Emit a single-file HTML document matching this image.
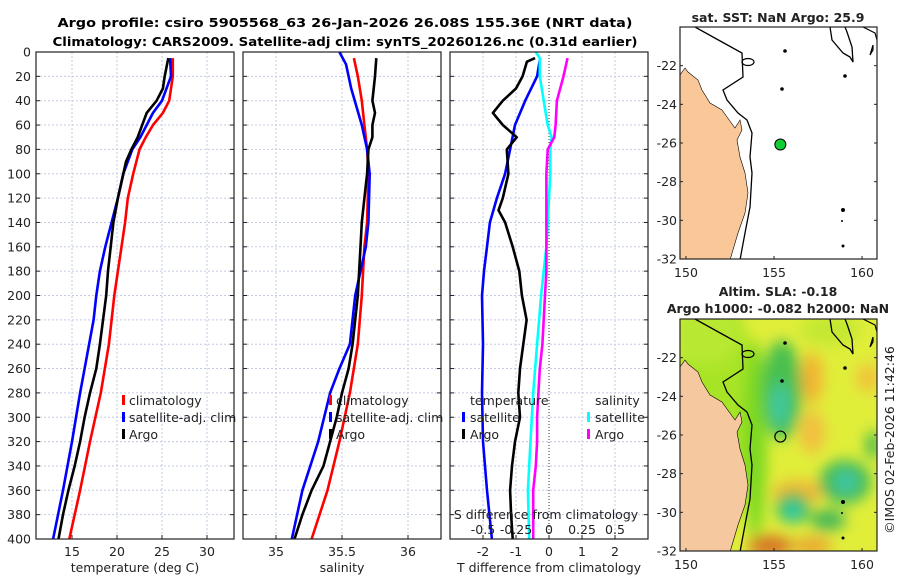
<!DOCTYPE html>
<html><head><meta charset="utf-8"><style>
body{margin:0;background:#fff}
svg{display:block;font-family:"DejaVu Sans","Liberation Sans",sans-serif}
</style></head><body>
<svg id="root" width="900" height="580" xmlns="http://www.w3.org/2000/svg">
<defs>
<filter id="blur" x="-50%" y="-50%" width="200%" height="200%"><feGaussianBlur stdDeviation="7"/></filter>
<clipPath id="clipMap1"><rect x="680" y="27" width="197" height="232"/></clipPath>
<clipPath id="clipMap2"><rect x="680" y="319" width="197" height="232"/></clipPath>
<clipPath id="clipP1"><rect x="36" y="52" width="198" height="487"/></clipPath>
<clipPath id="clipP2"><rect x="243" y="52" width="198" height="487"/></clipPath>
<clipPath id="clipP3"><rect x="450" y="52" width="198" height="487"/></clipPath>
</defs>
<text x="345" y="27" text-anchor="middle" font-size="12.5" font-weight="bold" textLength="575" lengthAdjust="spacingAndGlyphs">Argo profile: csiro 5905568_63 26-Jan-2026 26.08S 155.36E (NRT data)</text>
<text x="345" y="46" text-anchor="middle" font-size="12.5" font-weight="bold" textLength="585" lengthAdjust="spacingAndGlyphs">Climatology: CARS2009. Satellite-adj clim: synTS_20260126.nc (0.31d earlier)</text>
<g id="panels"></g>
<g id="maps"></g>
<text transform="translate(894,440) rotate(-90)" text-anchor="middle" font-size="12.5" fill="#222">©IMOS 02-Feb-2026 11:42:46</text>
</svg>
<script>
// ---------- data ----------
const depthT_clim = [5,20,40,50,60,70,80,100,120,140,160,200,220,240,280,320,360,400];
const temp_clim   = [26.2,26.2,25.8,25.1,24.0,23.2,22.5,21.8,21.2,20.9,20.5,19.7,19.4,19.1,18.2,17.0,15.9,14.7];
const depthT_argo = [5,20,30,40,50,60,70,80,90,100,120,140,160,180,200,240,260,280,300,320,340,360,380,400];
const temp_argo   = [25.7,25.3,25.1,24.4,23.3,22.8,22.3,21.6,21.0,20.7,20.1,19.6,19.3,19.0,18.8,18.1,17.7,17.0,16.4,15.9,15.3,14.6,14.0,13.5];
const depthT_sat  = [5,20,40,50,60,70,80,100,120,140,160,180,200,220,260,280,320,360,400];
const temp_sat    = [25.9,26.0,25.0,24.0,23.3,22.6,21.7,20.7,20.1,19.4,18.7,18.1,17.7,17.4,16.4,15.9,15.0,14.0,12.9];

const depthS_clim = [5,20,40,60,80,100,140,160,200,240,280,320,360,400];
const sal_clim    = [35.59,35.62,35.65,35.67,35.69,35.70,35.69,35.67,35.65,35.62,35.56,35.48,35.39,35.27];
const depthS_argo = [5,20,40,50,60,70,80,100,120,140,160,200,240,260,280,300,320,340,360,380,400];
const sal_argo    = [35.76,35.75,35.73,35.75,35.73,35.73,35.70,35.69,35.67,35.65,35.64,35.62,35.58,35.55,35.50,35.46,35.41,35.36,35.27,35.20,35.14];
const depthS_sat  = [0,10,30,60,80,100,140,160,200,240,260,280,320,360,400];
const sal_sat     = [35.48,35.53,35.57,35.65,35.69,35.71,35.70,35.68,35.60,35.56,35.48,35.41,35.32,35.20,35.12];

const depthD_Targo = [5,8,20,30,40,50,60,70,80,100,120,130,140,160,180,200,220,240,260,280,300,320,340,360,380,400];
const dT_argo      = [-0.42,-0.67,-0.8,-1.0,-1.4,-1.7,-1.4,-0.98,-1.28,-1.23,-1.4,-1.53,-1.33,-1.1,-0.9,-0.82,-0.68,-0.78,-0.88,-0.93,-0.88,-1.03,-1.12,-1.18,-1.15,-1.1];
const depthD_Tsat  = [5,20,40,60,80,100,120,140,160,180,200,240,280,320,360,400];
const dT_sat       = [-0.27,-0.36,-0.72,-1.03,-1.18,-1.33,-1.58,-1.79,-1.88,-1.97,-2.03,-2.0,-2.03,-2.0,-1.88,-1.73];
const depthD_Ssat  = [0,5,20,40,60,70,80,100,140,160,180,200,240,280,320,360,400];
const dS_sat       = [-0.1,-0.07,-0.07,-0.04,-0.01,0.02,0.01,0.01,-0.01,-0.02,-0.04,-0.06,-0.09,-0.12,-0.14,-0.16,-0.15];
const depthD_Sargo = [5,20,40,60,70,80,100,140,160,180,200,220,240,260,280,300,320,340,360,400];
const dS_argo      = [0.14,0.11,0.06,0.05,0.04,-0.01,-0.02,-0.02,-0.02,-0.02,-0.03,-0.04,-0.05,-0.07,-0.08,-0.09,-0.09,-0.1,-0.12,-0.12];

const depthTicks = [0,20,40,60,80,100,120,140,160,180,200,220,240,260,280,300,320,340,360,380,400];
const tempTicks = [15,20,25,30];
const salTicks = [35,35.5,36];
const salTickLabels = ["35","35.5","36"];
const dTTicks = [-2,-1,0,1,2];
const dSTicks = [-0.5,-0.25,0,0.25,0.5];
const dSTickLabels = ["-0.5","-0.25","0","0.25","0.5"];
const latTicks = [-22,-24,-26,-28,-30,-32];
const lonTicks = [150,155,160];
const argoLon = 155.36, argoLat = -26.08;

// ---------- helpers ----------
const NS="http://www.w3.org/2000/svg";
function mk(tag, attrs, parent){const e=document.createElementNS(NS,tag);for(const k in attrs)e.setAttribute(k,attrs[k]);parent.appendChild(e);return e;}
const Y0=52, Y1=539;
const yD = d => Y0 + (Y1-Y0)*d/400;
const panelsG=document.getElementById('panels');

function panel(x0, xmin, xmax, name){
  const g=mk('g',{},panelsG);
  
  
  const sx = v => x0 + 198*(v-xmin)/(xmax-xmin);
  return {g, sx, x0};
}
function grid(p, xticks){
  depthTicks.forEach(d=>{ if(d>0&&d<400){const l=mk('line',{x1:p.x0,x2:p.x0+198,y1:yD(d),y2:yD(d),stroke:'#c3cbe6','stroke-width':1,'stroke-dasharray':'2,2'},p.g);
     }});
  xticks.forEach(v=>{const l=mk('line',{x1:p.sx(v),x2:p.sx(v),y1:Y0,y2:Y1,stroke:'#c3cbe6','stroke-width':1,'stroke-dasharray':'2,2'},p.g);
     });
}
function frame(p, xticks){
  depthTicks.forEach(d=>{mk('line',{x1:p.x0,x2:p.x0+4,y1:yD(d),y2:yD(d),stroke:'#222'},p.g);mk('line',{x1:p.x0+194,x2:p.x0+198,y1:yD(d),y2:yD(d),stroke:'#222'},p.g);});
  xticks.forEach(v=>mk('line',{x1:p.sx(v),x2:p.sx(v),y1:Y1,y2:Y1-4,stroke:'#222'},p.g));
  const r=mk('rect',{x:p.x0,y:Y0,width:198,height:Y1-Y0,fill:'none',stroke:'#222','stroke-width':1.2},p.g);
   
}
function line(p, xs, ds, color, name, clip, sx){
  const f = sx||p.sx;
  const pts = xs.map((v,i)=>f(v).toFixed(1)+','+yD(ds[i]).toFixed(1)).join(' ');
  const l=mk('polyline',{points:pts,fill:'none',stroke:color,'stroke-width':2.6,'stroke-linejoin':'round','clip-path':'url(#'+clip+')'},p.g);
  
  
}
function txt(parent,x,y,s,opts){const t=mk('text',Object.assign({x,y,'font-size':12.5,fill:'#222'},opts||{}),parent);t.textContent=s;return t;}
function legendMark(parent,x,y,color){mk('rect',{x:x,y:y-9,width:3,height:10,fill:color},parent);}

// y labels
depthTicks.forEach(d=>{const t=txt(panelsG,31,yD(d)+4.5,String(d),{'text-anchor':'end'});
   });

// ----- panel 1: temperature -----
const p1=panel(36,11,33,'temperature-panel');
grid(p1,tempTicks);
line(p1,temp_clim,depthT_clim,'#ff0000','temp-climatology-line','clipP1');
line(p1,temp_sat,depthT_sat,'#0000ff','temp-satellite-line','clipP1');
line(p1,temp_argo,depthT_argo,'#000000','temp-argo-line','clipP1');
frame(p1,tempTicks);
tempTicks.forEach(v=>{const t=txt(p1.g,p1.sx(v),556,String(v),{'text-anchor':'middle'});});
{const t=txt(p1.g,135,572,'temperature (deg C)',{'text-anchor':'middle'});}
{const lg=mk('g',{},p1.g);
 legendMark(lg,122,404,'#ff0000');txt(lg,129,405,'climatology');
 legendMark(lg,122,421,'#0000ff');txt(lg,129,422,'satellite-adj. clim');
 legendMark(lg,122,438,'#000');txt(lg,129,439,'Argo');}

// ----- panel 2: salinity -----
const p2=panel(243,34.75,36.25,'salinity-panel');
grid(p2,salTicks);
line(p2,sal_clim,depthS_clim,'#ff0000','sal-climatology-line','clipP2');
line(p2,sal_sat,depthS_sat,'#0000ff','sal-satellite-line','clipP2');
line(p2,sal_argo,depthS_argo,'#000000','sal-argo-line','clipP2');
frame(p2,salTicks);
salTicks.forEach((v,i)=>{const t=txt(p2.g,p2.sx(v),556,salTickLabels[i],{'text-anchor':'middle'});});
{const t=txt(p2.g,342,572,'salinity',{'text-anchor':'middle'});}
{const lg=mk('g',{},p2.g);
 legendMark(lg,329,404,'#ff0000');txt(lg,336,405,'climatology');
 legendMark(lg,329,421,'#0000ff');txt(lg,336,422,'satellite-adj. clim');
 legendMark(lg,329,438,'#000');txt(lg,336,439,'Argo');}

// ----- panel 3: differences -----
const p3=panel(450,-3,3,'difference-panel');
const sxS = v => 450 + 198*(v+0.75)/1.5;
grid(p3,dTTicks.filter(v=>v!==0));
{const z=mk('line',{x1:p3.sx(0),x2:p3.sx(0),y1:Y0,y2:Y1,stroke:'#333','stroke-width':1,'stroke-dasharray':'1,2'},p3.g);}
line(p3,dT_sat,depthD_Tsat,'#0000ff','dT-satellite-line','clipP3');
line(p3,dT_argo,depthD_Targo,'#000000','dT-argo-line','clipP3');
line(p3,dS_sat,depthD_Ssat,'#00ffff','dS-satellite-line','clipP3',sxS);
line(p3,dS_argo,depthD_Sargo,'#ff00ff','dS-argo-line','clipP3',sxS);
frame(p3,dTTicks);
dTTicks.forEach(v=>{const t=txt(p3.g,p3.sx(v),556,String(v),{'text-anchor':'middle'});});
{const t=txt(p3.g,549,572,'T difference from climatology',{'text-anchor':'middle'});}
{const t=txt(p3.g,546,519,'S difference from climatology',{'text-anchor':'middle'});}
dSTicks.forEach((v,i)=>{const t=txt(p3.g,sxS(v),534,dSTickLabels[i],{'text-anchor':'middle'});});
{const lg=mk('g',{},p3.g);
 txt(lg,470,405,'temperature');
 legendMark(lg,462,421,'#0000ff');txt(lg,470,422,'satellite');
 legendMark(lg,462,438,'#000');txt(lg,470,439,'Argo');
 txt(lg,595,405,'salinity');
 legendMark(lg,587,421,'#00ffff');txt(lg,595,422,'satellite');
 legendMark(lg,587,438,'#ff00ff');txt(lg,595,439,'Argo');}

// ----- maps -----
const mapsG=document.getElementById('maps');
const lonX = lon => 680 + 197*(lon-149.66)/(160.85-149.66);
function latY(lat, top){ return top + 232*(-20-lat)/12; }
const landPath="M680,75 L685,68 L688,72 L698,80 L702,90 L710,103 L722,110 L727,117 L735,128 L740,120 L742,130 L737,140 L740,157 L745,173 L748,193 L745,213 L738,233 L730,260 L680,260 Z";
function coastOverlay(g){
  mk('path',{d:"M695,27 L722,42 L742,53 L743,77 L723,90 L727,100 L738,113 L747,120 L752,133 L750,157 L752,173 L750,207 L745,233 L740,260",fill:'none',stroke:'#000','stroke-width':1.3},g);
  mk('path',{d:"M830,27 L832,40 L843,53 L850,57 L853,62 L852,47 L847,32 L845,27",fill:'none',stroke:'#000','stroke-width':1.3},g);
  mk('path',{d:"M863,27 L875,33 L877,40 M873,45 L870,55 L873,50 Z",fill:'none',stroke:'#000','stroke-width':1.2},g);
  mk('ellipse',{cx:748,cy:62,rx:6,ry:3.5,fill:'none',stroke:'#000','stroke-width':1.2},g);
  [[785,51,1.8],[782,89,1.8],[845,76,1.8],[843,210,2],[842,221,1],[843,246,1.5]].forEach(c=>mk('circle',{cx:c[0],cy:c[1],r:c[2],fill:'#000'},g));
}
function mapAxes(g, top, name){
  latTicks.forEach(l=>{const y=latY(l,top);mk('line',{x1:680,x2:683,y1:y,y2:y,stroke:'#222'},g);mk('line',{x1:874,x2:877,y1:y,y2:y,stroke:'#222'},g);
    const t=txt(g,677,y+4.5,String(l),{'text-anchor':'end'});});
  lonTicks.forEach(l=>{const x=lonX(l);mk('line',{x1:x,x2:x,y1:top+232,y2:top+229,stroke:'#222'},g);
    const t=txt(g,x,top+250,String(l),{'text-anchor':'middle'});});
  const r=mk('rect',{x:680,y:top,width:197,height:232,fill:'none',stroke:'#222','stroke-width':1.2},g);
   
}
// map 1
{const g=mk('g',{},mapsG);
 const t=txt(g,778,22,'sat. SST: NaN Argo: 25.9',{'text-anchor':'middle','font-weight':'bold','font-size':12.5});
 const c=mk('g',{'clip-path':'url(#clipMap1)'},g);
 mk('rect',{x:680,y:27,width:197,height:232,fill:'#fff'},c);
 const land=mk('path',{d:landPath,fill:'#fac898',stroke:'#000','stroke-width':0.6},c);
 coastOverlay(c);
 const m=mk('circle',{cx:lonX(argoLon),cy:latY(argoLat,27),r:5.5,fill:'#11cc33',stroke:'#000','stroke-width':1},c);
  
 mapAxes(g,27,'sst-map');}
// map 2
{const g=mk('g',{},mapsG);
 let t=txt(g,778,296,'Altim. SLA: -0.18',{'text-anchor':'middle','font-weight':'bold','font-size':12.5});
 t=txt(g,778,313,'Argo h1000: -0.082 h2000: NaN',{'text-anchor':'middle','font-weight':'bold','font-size':12.5});
 const c=mk('g',{'clip-path':'url(#clipMap2)'},g);
 mk('rect',{x:680,y:319,width:197,height:232,fill:'#e0ee3a'},c);
 const h=mk('g',{filter:'url(#blur)'},c);
 [[715,400,40,110,'#a8e428'],[705,335,35,30,'#b8e830'],[755,440,12,100,'#7cd820'],[830,330,30,16,'#c4e832'],
  [782,390,20,50,'#48c050'],[780,405,9,22,'#40c8a0'],
  [812,378,11,26,'#f2b432'],[812,432,13,22,'#f2c040'],[868,378,12,14,'#f2c23a'],[798,492,26,12,'#f2b838'],
  [770,546,22,11,'#d87428'],[812,546,20,9,'#eaa430'],[845,482,26,22,'#44bc58'],[846,482,11,11,'#40c8a8'],
  [793,508,17,16,'#3cbc58'],[793,511,8,8,'#30d0b8'],[828,520,18,11,'#48b858'],[873,445,7,14,'#40b850']]
  .forEach(b=>mk('ellipse',{cx:b[0],cy:b[1],rx:b[2],ry:b[3],fill:b[4]},h));
 const gg=mk('g',{transform:'translate(0,292)'},c);
 const land=mk('path',{d:landPath,fill:'#f6c8a0',stroke:'#000','stroke-width':0.6},gg);
 coastOverlay(gg);
 const m=mk('circle',{cx:lonX(argoLon),cy:latY(argoLat,319),r:5.5,fill:'none',stroke:'#000','stroke-width':1.2},c);
  
 mapAxes(g,319,'sla-map');}
</script>
</body></html>
